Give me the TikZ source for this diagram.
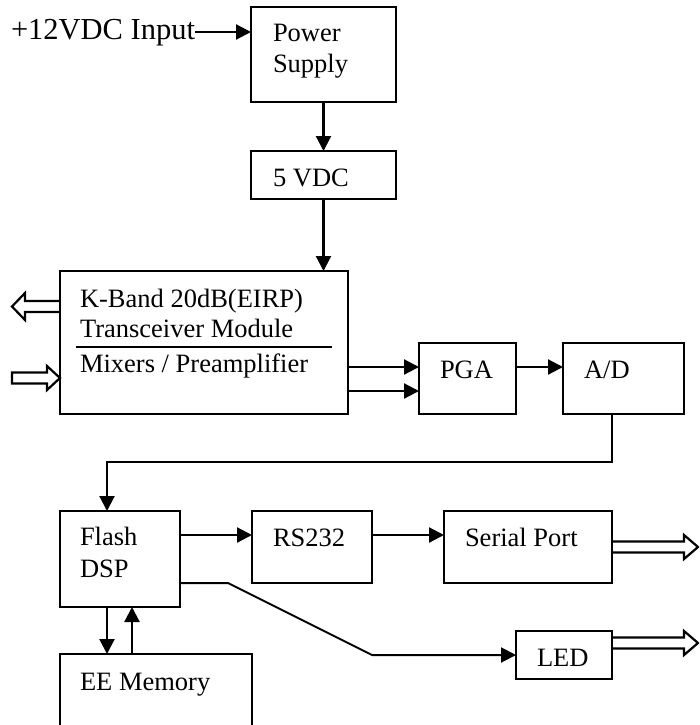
\documentclass[tikz,border=0pt]{standalone}
\usepackage{fontspec}
\setmainfont{Liberation Serif}
\usetikzlibrary{arrows.meta}
\begin{document}
\begin{tikzpicture}[x=1pt,y=-1pt,
  box/.style={draw,line width=2.6pt,anchor=north west,inner sep=0pt,outer sep=0pt},
  txt/.style={anchor=base west,inner sep=0pt,outer sep=0pt,font=\fontsize{26.5}{30}\selectfont},
  bigtxt/.style={txt,font=\fontsize{30.5}{34}\selectfont},
  arr/.style={line width=2.2pt,-{Triangle[length=15pt,width=15pt]}},
  wire/.style={line width=2.4pt},
  hollow/.style={line width=2.2pt,line join=miter}]
\clip (0,0) rectangle (699,725);
\useasboundingbox (0,0) rectangle (699,725);
\fill[white] (0,0) rectangle (699,725);

% boxes
\node[box,minimum width=145pt,minimum height=95pt] (ps) at (251,7) {};
\node[box,minimum width=145pt,minimum height=48pt] (v5) at (251,151) {};
\node[box,minimum width=288pt,minimum height=143pt] (kb) at (60,271) {};
\node[box,minimum width=97pt,minimum height=71pt] (pga) at (419,343) {};
\node[box,minimum width=121pt,minimum height=71pt] (ad) at (563,343) {};
\node[box,minimum width=120pt,minimum height=96pt] (fl) at (60,511) {};
\node[box,minimum width=120pt,minimum height=72pt] (rs) at (252,511) {};
\node[box,minimum width=168pt,minimum height=72pt] (sp) at (444,511) {};
\node[box,minimum width=96pt,minimum height=48pt] (led) at (516,631) {};
\node[box,minimum width=192pt,minimum height=90pt] (ee) at (60,654) {};

% texts
\node[bigtxt] (t12) at (11,40) {+12VDC Input};
\node[txt] (tps1) at (273,42) {Power};
\node[txt] (tps2) at (273,72) {Supply};
\node[txt] (tv5) at (273,186) {5 VDC};
\node[txt] (tkb1) at (80,307) {K-Band 20dB(EIRP)};
\node[txt] (tkb2) at (80,337) {Transceiver Module};
\node[txt] (tkb3) at (80,372) {Mixers / Preamplifier};
\node[txt] (tpga) at (440,378) {PGA};
\node[txt] (tad) at (584,378) {A/D};
\node[txt] (tfl1) at (80,545) {Flash};
\node[txt] (tfl2) at (80,577) {DSP};
\node[txt] (trs) at (273,546) {RS232};
\node[txt] (tsp) at (465,546) {Serial Port};
\node[txt] (tled) at (537,666) {LED};
\node[txt] (tee) at (80,690) {EE Memory};

% divider in K-band box
\draw[wire] (76,347) -- (332,347);

% helper coordinates
\coordinate (yin) at (0,32);
\coordinate (yk1) at (0,367);
\coordinate (yk2) at (0,391);
\coordinate (j1) at (612,462);
\coordinate (j2) at (107,462);
\coordinate (yfr) at (0,535);
\coordinate (yfl) at (0,583);
\coordinate (d2) at (228,583);
\coordinate (d3) at (372,655);
\coordinate (e1) at (107,0);
\coordinate (e2) at (132,0);

% connectors
\draw[arr] (t12.east |- yin) -- (ps.west |- yin);
\draw[arr] (ps.south) -- (v5.north);
\draw[arr] (v5.south) -- (v5.south |- kb.north);
\draw[arr] (kb.east |- yk1) -- (pga.west |- yk1);
\draw[arr] (kb.east |- yk2) -- (pga.west |- yk2);
\draw[arr] (pga.east |- yk1) -- (ad.west |- yk1);
\draw[arr] (ad.south -| j1) -- (j1) -- (j2) -- (j2 |- fl.north);
\draw[arr] (fl.east |- yfr) -- (rs.west |- yfr);
\draw[arr] (rs.east |- yfr) -- (sp.west |- yfr);
\draw[arr,line width=2pt,line join=miter] (fl.east |- yfl) -- (d2) -- (d3) -- (led.west);
\draw[arr] (fl.south -| e1) -- (e1 |- ee.north);
\draw[arr] (ee.north -| e2) -- (e2 |- fl.south);

% hollow arrows
\draw[hollow] (kb.west |- 0,301) -- ++(-35,0) -- ++(0,-8) -- ++(-13,13.5)
  -- ++(13,13.5) -- ++(0,-8) -- ++(35,0);
\draw[hollow] (kb.west |- 0,378) -- ++(-13,-12) -- ++(0,6.5) -- ++(-35,0)
  -- ++(0,11) -- ++(35,0) -- ++(0,6.5) -- cycle;
\draw[hollow] (sp.east |- 0,541.5) -- ++(72,0) -- ++(0,-6.5) -- ++(14,12)
  -- ++(-14,12) -- ++(0,-6.5) -- ++(-72,0);
\draw[hollow] (led.east |- 0,637.5) -- ++(72,0) -- ++(0,-6.5) -- ++(14,12)
  -- ++(-14,12) -- ++(0,-6.5) -- ++(-72,0);
\end{tikzpicture}
\end{document}
